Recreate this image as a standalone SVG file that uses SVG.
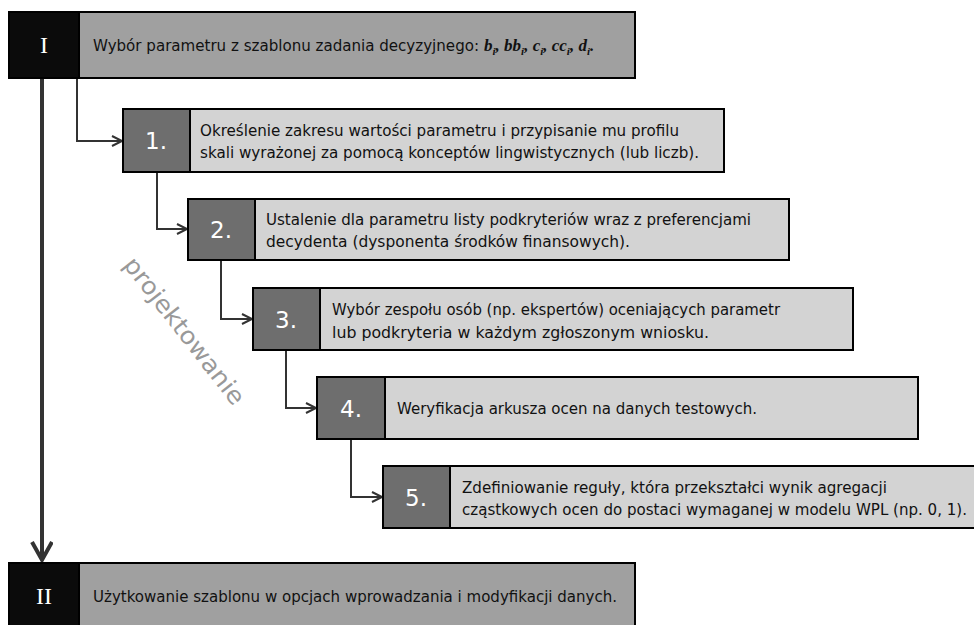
<svg xmlns="http://www.w3.org/2000/svg" width="974" height="625" viewBox="0 0 974 625">
<style>
.blk{fill:#0b0b0b;stroke:#000;stroke-width:2}
.g1{fill:#a0a0a0;stroke:#000;stroke-width:2}
.dk{fill:#6e6e6e;stroke:#000;stroke-width:2}
.lt{fill:#d3d3d3;stroke:#000;stroke-width:2}
.roman{font-family:"Liberation Serif","DejaVu Serif",serif;font-size:24px;fill:#fff;text-anchor:middle}
.num{font-family:"DejaVu Sans","Liberation Sans",sans-serif;font-size:23px;fill:#fff;text-anchor:middle}
.txt{font-family:"DejaVu Sans","Liberation Sans",sans-serif;font-size:16px;fill:#111}
.f{font-family:"Liberation Serif","DejaVu Serif",serif;font-size:17px;font-weight:bold;font-style:italic;fill:#111}
.sub{font-size:11px}
.conn{fill:none;stroke:#333;stroke-width:2}
.thick{fill:none;stroke:#333;stroke-width:4}
.proj{font-family:"DejaVu Sans","Liberation Sans",sans-serif;font-size:24px;fill:#999}
</style>
<defs>
<marker id="ah" markerUnits="userSpaceOnUse" markerWidth="14" markerHeight="14" refX="11" refY="6" orient="auto">
<path d="M1,1 L11,6 L1,11" fill="none" stroke="#333" stroke-width="2"/>
</marker>
<marker id="ahb" markerUnits="userSpaceOnUse" markerWidth="26" markerHeight="26" refX="20" refY="11" orient="auto">
<path d="M2,1 L20,11 L2,21" fill="none" stroke="#333" stroke-width="4"/>
</marker>
</defs>
<g id="connectors">
<path class="thick" d="M42,78 L42,560" marker-end="url(#ahb)"/>
<path class="conn" d="M77,78 L77,141 L122,141" marker-end="url(#ah)"/>
<path class="conn" d="M157,172 L157,229 L187,229" marker-end="url(#ah)"/>
<path class="conn" d="M221,260 L221,319 L252,319" marker-end="url(#ah)"/>
<path class="conn" d="M286,350 L286,408 L316,408" marker-end="url(#ah)"/>
<path class="conn" d="M351,439 L351,497 L382,497" marker-end="url(#ah)"/>
</g>
<g id="nodeI">
<rect class="g1" x="79" y="12" width="556" height="66"/>
<rect class="blk" x="9" y="12" width="70" height="66"/>
<text class="roman" x="44" y="53">I</text>
<text class="txt" x="93" y="51" textLength="386" lengthAdjust="spacingAndGlyphs">Wybór parametru z szablonu zadania decyzyjnego:</text>
<text class="f" x="484" y="51">b<tspan class="sub" dy="4">i</tspan><tspan dy="-4">, bb</tspan><tspan class="sub" dy="4">i</tspan><tspan dy="-4">, c</tspan><tspan class="sub" dy="4">i</tspan><tspan dy="-4">, cc</tspan><tspan class="sub" dy="4">i</tspan><tspan dy="-4">, d</tspan><tspan class="sub" dy="4">i</tspan><tspan dy="-4">.</tspan></text>
</g>
<g id="node1">
<rect class="lt" x="190" y="109" width="534" height="63"/>
<rect class="dk" x="123" y="109" width="67" height="63"/>
<text class="num" x="156" y="149">1.</text>
<text class="txt" x="200" y="136" textLength="479" lengthAdjust="spacingAndGlyphs">Określenie zakresu wartości parametru i przypisanie mu profilu</text>
<text class="txt" x="200" y="158" textLength="499" lengthAdjust="spacingAndGlyphs">skali wyrażonej za pomocą konceptów lingwistycznych (lub liczb).</text>
</g>
<g id="node2">
<rect class="lt" x="255" y="199" width="534" height="61"/>
<rect class="dk" x="188" y="199" width="67" height="61"/>
<text class="num" x="221" y="238">2.</text>
<text class="txt" x="266" y="225" textLength="485" lengthAdjust="spacingAndGlyphs">Ustalenie dla parametru listy podkryteriów wraz z preferencjami</text>
<text class="txt" x="266" y="247" textLength="364" lengthAdjust="spacingAndGlyphs">decydenta (dysponenta środków finansowych).</text>
</g>
<g id="node3">
<rect class="lt" x="320" y="288" width="533" height="62"/>
<rect class="dk" x="253" y="288" width="67" height="62"/>
<text class="num" x="286" y="328">3.</text>
<text class="txt" x="332" y="315" textLength="448" lengthAdjust="spacingAndGlyphs">Wybór zespołu osób (np. ekspertów) oceniających parametr</text>
<text class="txt" x="332" y="338" textLength="377" lengthAdjust="spacingAndGlyphs">lub podkryteria w każdym zgłoszonym wniosku.</text>
</g>
<g id="node4">
<rect class="lt" x="385" y="377" width="533" height="62"/>
<rect class="dk" x="317" y="377" width="68" height="62"/>
<text class="num" x="351" y="417">4.</text>
<text class="txt" x="397" y="414" textLength="360" lengthAdjust="spacingAndGlyphs">Weryfikacja arkusza ocen na danych testowych.</text>
</g>
<g id="node5">
<rect class="lt" x="450" y="466" width="534" height="62"/>
<rect class="dk" x="383" y="466" width="67" height="62"/>
<text class="num" x="416" y="506">5.</text>
<text class="txt" x="462" y="493" textLength="425" lengthAdjust="spacingAndGlyphs">Zdefiniowanie reguły, która przekształci wynik agregacji</text>
<text class="txt" x="462" y="515" textLength="505" lengthAdjust="spacingAndGlyphs">cząstkowych ocen do postaci wymaganej w modelu WPL (np. 0, 1).</text>
</g>
<g id="nodeII">
<rect class="g1" x="79" y="563" width="556" height="66"/>
<rect class="blk" x="9" y="563" width="70" height="66"/>
<text class="roman" x="44" y="604">II</text>
<text class="txt" x="93" y="602" textLength="524" lengthAdjust="spacingAndGlyphs">Użytkowanie szablonu w opcjach wprowadzania i modyfikacji danych.</text>
</g>
<g id="label">
<text class="proj" x="0" y="0" text-anchor="middle" transform="translate(178,336) rotate(52)" textLength="180" lengthAdjust="spacingAndGlyphs">projektowanie</text>
</g>
</svg>
